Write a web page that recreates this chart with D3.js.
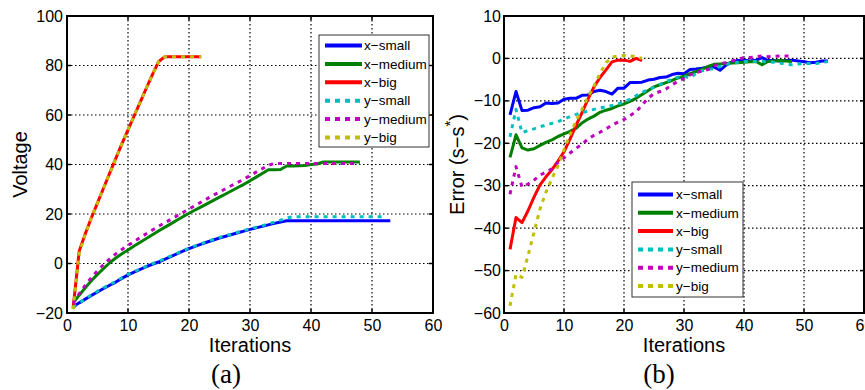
<!DOCTYPE html>
<html><head><meta charset="utf-8">
<script src="https://cdn.jsdelivr.net/npm/d3@7"></script>
<style>html,body{margin:0;padding:0;background:#fff;} svg{display:block;}</style>
</head><body>
<svg id="c" width="865" height="390"></svg>
<script>
// ---------- data ----------
const iterTicks = [0, 10, 20, 30, 40, 50, 60];
const voltTicks = [-20, 0, 20, 40, 60, 80, 100];
const errTicks = [-60, -50, -40, -30, -20, -10, 0, 10];
const seriesNames = ["x\u2212small", "x\u2212medium", "x\u2212big", "y\u2212small", "y\u2212medium", "y\u2212big"];

// panel (a): voltage per iteration (iteration = index + 1)
const voltXSmall = [-17.5,-15.9,-14.4,-12.9,-11.5,-10.1,-8.8,-7.5,-6.0,-4.6,-3.5,-2.4,-1.3,-0.3,0.6,1.7,2.8,3.9,5.0,6.0,6.9,7.8,8.7,9.5,10.3,11.0,11.7,12.4,13.1,13.8,14.4,15.0,15.6,16.2,16.8,17.3,17.3,17.3,17.3,17.3,17.3,17.3,17.3,17.3,17.3,17.3,17.3,17.3,17.3,17.3,17.3,17.3,17.3];
const voltXMedium = [-16,-12.8,-9.8,-7.0,-4.4,-2.0,0.3,2.2,3.9,5.5,7.1,8.6,10.1,11.6,13.1,14.6,16.0,17.5,18.9,20.3,21.6,22.9,24.2,25.5,26.8,28.1,29.4,30.7,32.0,33.4,34.9,36.4,37.9,37.9,38.0,39.4,39.4,39.5,39.6,40.0,40.2,41.0,41.0,41.0,41.0,41.0,41.0,41.0];
const voltXBig = [-18,5,12,18.5,24.5,30.5,36.5,42.5,48.3,54,59.6,65.2,70.8,76.3,81.5,83.5,83.5,83.5,83.5,83.5,83.5,83.5];
const voltYSmall = [-17.8,-16.0,-14.3,-12.7,-11.2,-9.8,-8.5,-7.2,-5.8,-4.4,-3.3,-2.2,-1.1,-0.1,0.8,1.9,3.0,4.1,5.2,6.2,7.1,8.0,8.9,9.7,10.5,11.2,11.9,12.6,13.3,14.0,14.6,15.3,16.0,16.7,17.5,18.4,18.9,18.9,18.9,18.9,18.9,18.9,18.9,18.9,18.9,18.9,18.9,18.9,18.9,18.9,18.9,18.9];
const voltYMedium = [-16,-12.2,-8.8,-5.7,-2.9,-0.4,1.9,3.9,5.7,7.3,8.9,10.5,12.0,13.5,15.0,16.4,17.8,19.2,20.6,22.0,23.4,24.8,26.2,27.6,28.9,30.2,31.5,32.8,34.1,35.5,36.9,38.3,39.7,40.4,40.4,40.4,40.4,40.4,40.4,40.4,40.4,40.4,40.4,40.4,40.4,40.4,40.4,40.4];
const voltYBig = [-18.5,4,12,18.5,24.5,30.5,36.5,42.5,48.3,54,59.6,65.2,70.8,76.3,81.5,83.5,83.5,83.5,83.5,83.5,83.5,83.5];

// panel (b): error (s - s*) per iteration
const errXSmall = [-13.3,-7.8,-12.3,-12.2,-11.6,-11.4,-10.5,-10.6,-10.5,-9.6,-9.4,-9.4,-8.7,-8.6,-7.8,-7.5,-7.8,-8.4,-7.0,-7.0,-5.7,-5.7,-5.6,-5.1,-4.9,-4.5,-4.4,-3.8,-3.5,-3.6,-2.6,-2.5,-2.3,-2.0,-2.0,-2.8,-1.6,-0.8,-0.5,-0.4,-0.6,-0.4,0.2,-0.5,-0.5,-0.6,-0.5,-0.4,-0.6,-0.8,-1.0,-0.9,-0.6,-0.6];
const errXMedium = [-23.3,-18.0,-21.1,-21.6,-21.3,-20.5,-19.8,-19.2,-18.4,-17.8,-17.2,-16.5,-15.2,-14.3,-13.6,-12.7,-12.2,-11.8,-11.2,-10.7,-10.1,-9.4,-8.5,-7.6,-6.7,-6.2,-5.7,-5.2,-4.6,-4.2,-3.6,-3.1,-2.6,-1.9,-1.4,-1.3,-1.2,-1.1,-1.0,-0.9,-0.8,-0.7,-1.5,-0.7,-0.6,-0.5,-0.6,-0.7];
const errXBig = [-45.0,-37.5,-38.7,-35.9,-32.7,-29.8,-27.9,-26.2,-24.2,-22.0,-19.0,-15.8,-12.8,-9.6,-6.7,-4.5,-2.7,-0.8,-0.4,-0.4,-0.7,0.0,-0.5];
const errYSmall = [-18.5,-12.0,-17.5,-17.0,-16.6,-16.1,-15.7,-15.3,-14.9,-14.3,-13.7,-13.2,-12.8,-12.4,-12.0,-11.7,-11.4,-11.1,-10.7,-10.3,-9.6,-8.8,-8.0,-7.4,-6.8,-6.1,-5.5,-4.9,-4.4,-4.2,-4.6,-3.5,-2.9,-2.6,-2.4,-1.9,-1.4,-1.1,-0.9,-0.7,-0.7,-0.7,-0.7,-0.8,-0.9,-1.1,-1.4,-1.5,-1.3,-1.2,-1.2,-1.2,-1.0,-0.7];
const errYMedium = [-32.0,-25.5,-30.3,-29.6,-28.7,-27.5,-26.8,-26.0,-24.5,-23.4,-22.3,-21.2,-20.2,-19.0,-18.1,-17.4,-16.6,-15.7,-15.0,-14.4,-13.5,-12.6,-11.0,-9.4,-8.3,-7.8,-7.2,-6.2,-5.4,-4.7,-3.9,-3.3,-3.0,-2.6,-1.8,-1.2,-1.0,-0.6,-0.2,0.2,0.2,0.4,0.6,0.4,0.5,0.6,0.6,0.5];
const errYBig = [-58.3,-50.9,-51.6,-46.5,-41.0,-35.5,-31.5,-28.3,-25.3,-21.5,-18.0,-14.7,-12.0,-9.1,-6.5,-3.5,-1.0,0.3,0.6,0.7,0.6,0.4,0.0];

// ---------- styles ----------
const seriesColors = ["#0000ff", "#008000", "#ff0000", "#00bfbf", "#bf00bf", "#bfbf00"];
const seriesDotted = [false, false, false, true, true, true];
const FONT = "'Liberation Sans', Arial, Helvetica, sans-serif";

const svg = d3.select("#c");

function panel(cfg) {
  const x = d3.scaleLinear().domain([0, 60]).range([cfg.left, cfg.right]);
  const y = d3.scaleLinear().domain(cfg.yDomain).range([cfg.bottom, cfg.top]);
  const g = svg.append("g");

  // grid
  g.append("g").selectAll("line").data(iterTicks.slice(1, -1)).join("line")
    .attr("x1", d => x(d)).attr("x2", d => x(d)).attr("y1", cfg.top).attr("y2", cfg.bottom)
    .attr("stroke", "#000").attr("stroke-width", 1.2).attr("stroke-dasharray", "1.5,2.5");
  g.append("g").selectAll("line").data(cfg.yTicks.slice(1, -1)).join("line")
    .attr("y1", d => y(d)).attr("y2", d => y(d)).attr("x1", cfg.left).attr("x2", cfg.right)
    .attr("stroke", "#000").attr("stroke-width", 1.2).attr("stroke-dasharray", "1.5,2.5");

  // inner tick marks
  const tl = 4;
  const tk = g.append("g").attr("stroke", "#000").attr("stroke-width", 1.5);
  iterTicks.forEach(d => {
    tk.append("line").attr("x1", x(d)).attr("x2", x(d)).attr("y1", cfg.bottom).attr("y2", cfg.bottom - tl);
    tk.append("line").attr("x1", x(d)).attr("x2", x(d)).attr("y1", cfg.top).attr("y2", cfg.top + tl);
  });
  cfg.yTicks.forEach(d => {
    tk.append("line").attr("y1", y(d)).attr("y2", y(d)).attr("x1", cfg.left).attr("x2", cfg.left + tl);
    tk.append("line").attr("y1", y(d)).attr("y2", y(d)).attr("x1", cfg.right).attr("x2", cfg.right - tl);
  });

  // lines
  const line = d3.line().x((d, i) => x(i + 1)).y(d => y(d));
  cfg.series.forEach((s, k) => {
    g.append("path").datum(s).attr("d", line).attr("fill", "none")
      .attr("stroke", seriesColors[k]).attr("stroke-width", 3)
      .attr("stroke-linejoin", "round")
      .attr("stroke-dasharray", seriesDotted[k] ? "4,5" : null);
  });

  // box
  g.append("rect").attr("x", cfg.left).attr("y", cfg.top)
    .attr("width", cfg.right - cfg.left).attr("height", cfg.bottom - cfg.top)
    .attr("fill", "none").attr("stroke", "#000").attr("stroke-width", 2);

  // axes labels via d3 axes
  const ax = g.append("g").attr("transform", `translate(0,${cfg.bottom})`)
    .call(d3.axisBottom(x).tickValues(iterTicks).tickSize(0).tickPadding(7));
  const ay = g.append("g").attr("transform", `translate(${cfg.left},0)`)
    .call(d3.axisLeft(y).tickValues(cfg.yTicks).tickSize(0).tickPadding(cfg.yPad));
  [ax, ay].forEach(a => {
    a.select(".domain").remove();
    a.selectAll("text").attr("font-family", FONT).attr("font-size", 16).attr("fill", "#000");
  });

  // x label
  g.append("text").attr("x", (cfg.left + cfg.right) / 2).attr("y", 352)
    .attr("text-anchor", "middle").attr("font-family", FONT).attr("font-size", 20)
    .text("Iterations");

  // y label
  const yl = g.append("text")
    .attr("transform", `translate(${cfg.yLabelX},${(cfg.top + cfg.bottom) / 2}) rotate(-90)`)
    .attr("text-anchor", "middle").attr("font-family", FONT).attr("font-size", 20);
  cfg.yLabel(yl);

  // caption
  g.append("text").attr("x", cfg.captionX).attr("y", 383).attr("text-anchor", "middle")
    .attr("font-family", "'Liberation Serif', 'Times New Roman', serif").attr("font-size", 27)
    .text(cfg.caption);

  // legend
  const L = cfg.legend;
  const lg = g.append("g");
  lg.append("rect").attr("x", L.x).attr("y", L.y).attr("width", L.w).attr("height", L.h)
    .attr("fill", "#fff").attr("stroke", "#333").attr("stroke-width", 1);
  seriesNames.forEach((name, k) => {
    const ry = L.y + L.first + k * L.step;
    lg.append("line").attr("x1", L.x + L.lx0).attr("x2", L.x + L.lx1).attr("y1", ry).attr("y2", ry)
      .attr("stroke", seriesColors[k]).attr("stroke-width", 4)
      .attr("stroke-dasharray", seriesDotted[k] ? "5,5" : null);
    lg.append("text").attr("x", L.x + L.tx).attr("y", ry).attr("dy", "0.35em")
      .attr("font-family", FONT).attr("font-size", 13.5).text(name);
  });
}

panel({
  left: 67, right: 433, top: 16, bottom: 313,
  yDomain: [-20, 100], yTicks: voltTicks, yPad: 4,
  series: [voltXSmall, voltXMedium, voltXBig, voltYSmall, voltYMedium, voltYBig],
  yLabelX: 27,
  yLabel: t => t.text("Voltage"),
  caption: "(a)", captionX: 226,
  legend: {x: 319, y: 35, w: 110, h: 112, first: 10.5, step: 18.4, lx0: 6, lx1: 43, tx: 45}
});

panel({
  left: 504, right: 864, top: 16, bottom: 313,
  yDomain: [-60, 10], yTicks: errTicks, yPad: 3,
  series: [errXSmall, errXMedium, errXBig, errYSmall, errYMedium, errYBig],
  yLabelX: 464,
  yLabel: t => {
    t.append("tspan").text("Error (s\u2212s");
    t.append("tspan").attr("dy", -9).attr("font-size", 15).text("*");
    t.append("tspan").attr("dy", 9).text(")");
  },
  caption: "(b)", captionX: 659,
  legend: {x: 632, y: 182, w: 111, h: 115, first: 12.5, step: 18.3, lx0: 6, lx1: 41, tx: 44}
});
</script>
</body></html>
